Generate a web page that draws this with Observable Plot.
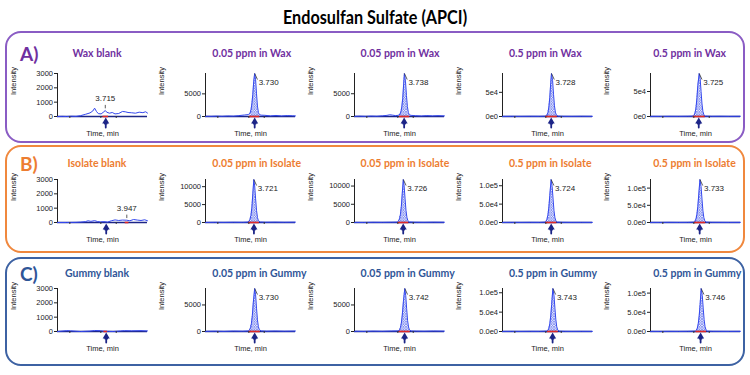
<!DOCTYPE html>
<html><head><meta charset="utf-8">
<script src="https://cdn.jsdelivr.net/npm/d3@7"></script>
<script src="https://cdn.jsdelivr.net/npm/@observablehq/plot@0.6"></script>
<style>
body{margin:0;background:#fff;}
#root{position:relative;width:750px;height:375px;overflow:hidden;font-family:Lato,"Open Sans",sans-serif;}
.box{position:absolute;box-sizing:border-box;border:2px solid;border-radius:16px;}
.t{position:absolute;font-weight:bold;white-space:nowrap;line-height:1;}
.panel{position:absolute;}
</style></head><body>
<div id="root"></div>
<script>
// ---------- data ----------
const mainTitle = "Endosulfan Sulfate (APCI)";
const rowLabels = ["A)", "B)", "C)"];
const titles = [
  ["Wax blank", "0.05 ppm in Wax", "0.05 ppm in Wax", "0.5 ppm in Wax", "0.5 ppm in Wax"],
  ["Isolate blank", "0.05 ppm in Isolate", "0.05 ppm in Isolate", "0.5 ppm in Isolate", "0.5 ppm in Isolate"],
  ["Gummy blank", "0.05 ppm in Gummy", "0.05 ppm in Gummy", "0.5 ppm in Gummy", "0.5 ppm in Gummy"]
];
const rtLabels = [
  [3.715, 3.730, 3.738, 3.728, 3.725],
  [3.947, 3.721, 3.726, 3.724, 3.733],
  [null, 3.730, 3.742, 3.743, 3.746]
];
const yMax = [
  [3000, 9500, 9450, 89000, 86000],
  [3000, 12000, 11800, 117000, 125000],
  [3000, 8100, 8100, 111000, 112000]
];
const yTicks = [
  [[0,1000,2000,3000],[0,5000],[0,5000],[0,50000],[0,50000]],
  [[0,1000,2000,3000],[0,5000,10000],[0,5000,10000],[0,50000,100000],[0,50000,100000]],
  [[0,1000,2000,3000],[0,5000],[0,5000],[0,50000,100000],[0,50000,100000]]
];
const yTickStyle = [
  ["plain","plain","plain","e0","e0"],
  ["plain","plain","plain","e1","e1"],
  ["plain","plain","plain","e1","e1"]
];
const xDomain = [3.2, 4.17];
const xTicks = [3.5, 4.0];
const xMinorTicks = [3.333, 3.667, 3.833];
const arrowRT = [
  [3.72, 3.73, 3.735, 3.725, 3.72],
  [3.725, 3.722, 3.725, 3.725, 3.73],
  [3.725, 3.73, 3.74, 3.74, 3.74]
];
const integration = [
  [[3.69,3.75],[3.675,3.785],[3.685,3.795],[3.665,3.79],[3.66,3.79]],
  [[3.93,3.97],[3.665,3.78],[3.67,3.785],[3.665,3.785],[3.675,3.795]],
  [[3.70,3.74],[3.67,3.79],[3.68,3.80],[3.685,3.80],[3.69,3.805]]
];
const traceA1 = [[3.20,0],[3.25,10],[3.30,0],[3.35,20],[3.40,10],[3.45,60],[3.50,150],[3.55,250],[3.58,380],[3.60,580],[3.62,350],[3.64,200],[3.67,180],[3.70,330],[3.715,420],[3.73,300],[3.76,230],[3.79,280],[3.82,180],[3.86,210],[3.90,350],[3.93,330],[3.96,280],[4.00,260],[4.04,230],[4.08,300],[4.12,270],[4.15,330],[4.17,240]];
const traceA2 = [[3.20,60],[3.26,40],[3.32,90],[3.38,50],[3.44,120],[3.50,80],[3.56,200],[3.62,330],[3.66,420],[3.68,700],[3.69,1400],[3.70,2800],[3.71,4900],[3.72,7800],[3.73,9500],[3.74,8100],[3.75,5000],[3.76,2300],[3.77,900],[3.78,420],[3.80,300],[3.84,260],[3.90,140],[3.96,230],[4.02,130],[4.08,210],[4.14,160],[4.17,120]];
const traceA3 = [[3.20,50],[3.26,80],[3.32,40],[3.38,100],[3.44,60],[3.50,150],[3.55,250],[3.58,380],[3.61,300],[3.64,200],[3.67,250],[3.69,500],[3.70,1000],[3.71,2100],[3.72,4000],[3.73,7200],[3.738,9450],[3.75,7600],[3.76,4600],[3.77,2200],[3.78,900],[3.79,380],[3.81,250],[3.86,180],[3.92,120],[3.98,200],[4.04,140],[4.10,190],[4.17,130]];
const traceA4 = [[3.20,300],[3.30,500],[3.40,400],[3.50,600],[3.60,500],[3.66,800],[3.68,3000],[3.69,8000],[3.70,20000],[3.71,40000],[3.72,70000],[3.728,89000],[3.74,74000],[3.75,46000],[3.76,22000],[3.77,9000],[3.78,3000],[3.80,900],[3.86,500],[3.95,400],[4.05,600],[4.17,400]];
const traceA5 = [[3.20,400],[3.30,300],[3.40,500],[3.50,400],[3.60,600],[3.66,900],[3.67,2500],[3.68,7000],[3.69,17000],[3.70,36000],[3.71,62000],[3.725,86000],[3.735,76000],[3.745,50000],[3.755,25000],[3.765,10000],[3.775,3500],[3.79,1000],[3.86,500],[3.95,600],[4.05,400],[4.17,500]];
const traceB1 = [[3.20,0],[3.30,0],[3.40,10],[3.45,30],[3.50,60],[3.53,120],[3.56,80],[3.60,130],[3.63,70],[3.66,40],[3.70,60],[3.74,30],[3.78,120],[3.82,180],[3.86,140],[3.90,170],[3.947,160],[3.98,120],[4.02,210],[4.06,170],[4.10,140],[4.14,190],[4.17,120]];
const traceB2 = [[3.20,30],[3.30,60],[3.40,40],[3.50,80],[3.60,60],[3.65,120],[3.67,350],[3.68,900],[3.69,2000],[3.70,4200],[3.71,8000],[3.721,12000],[3.73,10200],[3.74,6600],[3.75,3400],[3.76,1400],[3.77,500],[3.79,150],[3.85,80],[3.95,110],[4.05,70],[4.17,100]];
const traceB3 = [[3.20,40],[3.30,20],[3.40,70],[3.50,50],[3.60,90],[3.66,120],[3.675,400],[3.685,1000],[3.695,2200],[3.705,4400],[3.715,8000],[3.726,11800],[3.735,10000],[3.745,6500],[3.755,3300],[3.765,1400],[3.775,500],[3.79,160],[3.85,90],[3.95,60],[4.05,100],[4.17,70]];
const traceB4 = [[3.20,300],[3.30,500],[3.40,400],[3.50,600],[3.60,500],[3.66,1200],[3.67,3500],[3.68,9000],[3.69,21000],[3.70,42000],[3.71,74000],[3.724,117000],[3.735,98000],[3.745,64000],[3.755,32000],[3.765,13000],[3.775,4500],[3.79,1200],[3.85,600],[3.95,400],[4.05,500],[4.17,400]];
const traceB5 = [[3.20,400],[3.30,300],[3.40,600],[3.50,400],[3.60,500],[3.67,1300],[3.68,3800],[3.69,10000],[3.70,23000],[3.71,46000],[3.72,80000],[3.733,125000],[3.745,104000],[3.755,68000],[3.765,34000],[3.775,14000],[3.785,4800],[3.80,1300],[3.86,600],[3.95,500],[4.05,400],[4.17,500]];
const traceC1 = [[3.20,0],[3.30,60],[3.34,50],[3.40,20],[3.45,0],[3.55,30],[3.60,70],[3.66,60],[3.70,20],[3.75,10],[3.80,0],[3.88,40],[3.92,60],[4.00,50],[4.10,60],[4.17,40]];
const traceC2 = [[3.20,40],[3.30,70],[3.40,30],[3.50,90],[3.60,60],[3.66,110],[3.675,280],[3.685,700],[3.695,1500],[3.705,3000],[3.715,5400],[3.730,8100],[3.74,6900],[3.75,4400],[3.76,2200],[3.77,900],[3.78,330],[3.80,120],[3.86,70],[3.95,100],[4.05,60],[4.17,90]];
const traceC3 = [[3.20,60],[3.30,30],[3.40,80],[3.50,50],[3.60,100],[3.67,120],[3.685,300],[3.695,720],[3.705,1550],[3.715,3100],[3.727,5600],[3.742,8100],[3.752,6800],[3.762,4300],[3.772,2100],[3.782,850],[3.792,300],[3.81,110],[3.87,80],[3.95,60],[4.05,100],[4.17,70]];
const traceC4 = [[3.20,300],[3.30,500],[3.40,400],[3.50,600],[3.60,500],[3.68,1200],[3.69,3300],[3.70,8500],[3.71,20000],[3.72,40000],[3.73,70000],[3.743,111000],[3.755,93000],[3.765,60000],[3.775,30000],[3.785,12000],[3.795,4200],[3.81,1100],[3.87,600],[3.95,400],[4.05,500],[4.17,400]];
const traceC5 = [[3.20,400],[3.30,300],[3.40,500],[3.50,400],[3.60,600],[3.685,1200],[3.695,3400],[3.705,8700],[3.715,20500],[3.725,41000],[3.735,71000],[3.746,112000],[3.758,94000],[3.768,61000],[3.778,30500],[3.788,12500],[3.798,4300],[3.815,1100],[3.87,600],[3.95,500],[4.05,400],[4.17,500]];
const traces = [
  [traceA1, traceA2, traceA3, traceA4, traceA5],
  [traceB1, traceB2, traceB3, traceB4, traceB5],
  [traceC1, traceC2, traceC3, traceC4, traceC5]
];

// ---------- layout / style ----------
const root = document.getElementById("root");
const rowColor = ["#7030A0", "#ED7D31", "#2F5597"];
const boxColor = ["#8a5cc4", "#F0883E", "#3D62A3"];
const boxes = [[31, 143], [145, 253], [257, 366]];
const plotTop = [73, 179, 288];
const titleY = [53, 163, 273];
const ML = 52, MT = 8, MB = 25, PW = 90, PH = 43, MR = 4;
const navy = "#1c2587", traceBlue = "#3347ee", fontAx = "'Liberation Sans', Arial, sans-serif";

function addDiv(cls, text, css) {
  const d = document.createElement("div");
  d.className = cls; d.textContent = text;
  Object.assign(d.style, css);
  root.appendChild(d);
  return d;
}
addDiv("t", mainTitle, {left: "375px", top: "17px", transform: "translate(-50%,-50%) scaleX(0.9)", fontSize: "18px", color: "#000"});
boxes.forEach(([t, b], i) => {
  addDiv("box", "", {left: "5px", top: t + "px", width: "740px", height: (b - t) + "px", borderColor: boxColor[i]});
});
rowLabels.forEach((l, i) => addDiv("t", l, {left: "20px", top: titleY[i] + "px", transform: "translate(0,-50%)", fontSize: "19px", color: rowColor[i]}));

function fmtFor(style) {
  if (style === "e0") return d => d3.format(".0e")(d).replace("+", "");
  if (style === "e1") return d => d3.format(".1e")(d).replace("+", "");
  return d => String(d);
}

let pid = 0;
for (let r = 0; r < 3; r++) {
  for (let c = 0; c < 5; c++) {
    const trace = traces[r][c];
    const H = yMax[r][c];
    const rt = rtLabels[r][c];
    const [i0, i1] = integration[r][c];
    const blank = c === 0;
    const x = d => d[0], y = d => d[1];
    const marks = [];
    if (!blank) {
      marks.push(Plot.areaY(trace.filter(d => d[0] >= i0 && d[0] <= i1), {x, y, fill: "#b9c2f8", className: "peakfill"}));
    }
    marks.push(Plot.ruleY([0], {stroke: navy, strokeWidth: 1.6}));
    marks.push(Plot.line(trace, {x, y, stroke: traceBlue, strokeWidth: 1}));
    marks.push(Plot.ruleX([xDomain[0]], {stroke: "#222", strokeWidth: 1}));
    marks.push(Plot.ruleY([{x1: i0, x2: i1, y: 0}], {x1: "x1", x2: "x2", y: "y", stroke: "#e02828", strokeWidth: 1.6}));
    marks.push(Plot.vector([{x: arrowRT[r][c], y: 0}], {x: "x", y: "y", length: 5, rotate: 0, anchor: "start", dy: 11, stroke: navy, strokeWidth: 1.8}));
    marks.push(Plot.dot([{x: arrowRT[r][c], y: 0}], {x: "x", y: "y", symbol: "triangle", r: 2.6, fill: navy, stroke: null, dy: 5}));
    if (rt != null) {
      if (blank) {
        const p = trace.find(d => d[0] === rt) || [rt, 0];
        marks.push(Plot.link([p], {x1: d => d[0], x2: d => d[0], y1: d => d[1] + H * 0.05, y2: d => d[1] + H * 0.13, stroke: "#333", strokeWidth: 0.8}));
        marks.push(Plot.text([p], {x: d => d[0], y: d => d[1], text: () => rt.toFixed(3), dy: -12, fontSize: 8, fill: "#222", fontFamily: fontAx}));
      } else {
        marks.push(Plot.link([{x: rt, y: H}], {x1: "x", y1: "y", x2: d => d.x + 0.03, y2: d => d.y * 0.86, stroke: "#333", strokeWidth: 0.8}));
        marks.push(Plot.text([{x: rt, y: H}], {x: "x", y: "y", text: () => rt.toFixed(3), dx: 4, dy: 9, textAnchor: "start", fontSize: 8, fill: "#222", fontFamily: fontAx}));
      }
    }
    marks.push(Plot.text(["Intensity"], {frameAnchor: "left", text: d => d, rotate: -90, dx: -44, fontSize: 7.5, fill: "#222", fontFamily: fontAx}));
    marks.push(Plot.text(["Time, min"], {frameAnchor: "bottom", text: d => d, dy: 19, fontSize: 7.5, fill: "#222", fontFamily: fontAx}));
    if (Plot.axisX) {
      marks.push(Plot.axisX(xMinorTicks, {tickSize: 2, tickFormat: () => "", stroke: "#333"}));
    }
    const svg = Plot.plot({
      width: ML + PW + MR, height: MT + PH + MB,
      marginLeft: ML, marginRight: MR, marginTop: MT, marginBottom: MB,
      style: {fontSize: "7.5px", fontFamily: fontAx, color: "#222", background: "transparent", overflow: "visible"},
      x: {domain: xDomain, ticks: xTicks, tickFormat: d3.format(".1f"), tickSize: 3, tickPadding: 1.5, label: null},
      y: {domain: [0, H], ticks: yTicks[r][c], tickFormat: fmtFor(yTickStyle[r][c]), tickSize: 3, tickPadding: 1.5, label: null},
      marks
    });
    const id = "hatch" + (pid++);
    const ns = "http://www.w3.org/2000/svg";
    const defs = document.createElementNS(ns, "defs");
    defs.innerHTML = `<pattern id="${id}" patternUnits="userSpaceOnUse" width="2.6" height="2.6"><rect width="2.6" height="2.6" fill="#eef0ff"/><path d="M0,2.6 L2.6,0 M0,0 L2.6,2.6" stroke="#4a5ee8" stroke-width="0.55"/></pattern>`;
    svg.insertBefore(defs, svg.firstChild);
    svg.querySelectorAll("[class*=peakfill] path").forEach(p => p.setAttribute("fill", `url(#${id})`));
    const left = 5 + c * 148.3;
    svg.classList.add("panel");
    svg.style.left = left + "px";
    svg.style.top = (plotTop[r] - MT) + "px";
    root.appendChild(svg);
    if (blank) {
      addDiv("t", titles[r][c], {left: "97px", top: titleY[r] + "px", transform: "translate(-50%,-50%)", fontSize: "10.5px", color: rowColor[r]});
    } else {
      const tl = c === 4 ? left + ML + 3 : left + ML + 7;
      addDiv("t", titles[r][c], {left: tl + "px", top: titleY[r] + "px", transform: "translate(0,-50%)", fontSize: "10.5px", color: rowColor[r]});
    }
  }
}
</script>
</body></html>
